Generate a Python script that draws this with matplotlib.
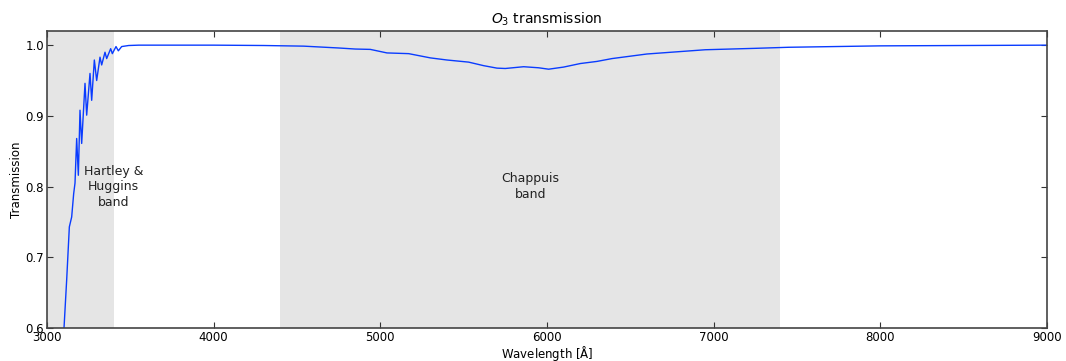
import matplotlib
matplotlib.use("Agg")
import matplotlib.pyplot as plt

# wavelength [A] and O3 transmission
wave = [3095, 3102, 3118, 3134, 3148, 3160, 3168, 3178, 3188, 3198, 3208, 3228, 3238,
        3258, 3268, 3284, 3298, 3318, 3328, 3348, 3358, 3382, 3392, 3414, 3428, 3448,
        3490, 3550, 3700, 4000, 4300, 4540, 4750, 4850, 4940, 5040, 5170, 5300, 5400,
        5530, 5620, 5700, 5750, 5860, 5950, 6010, 6100, 6200, 6300, 6390, 6600, 6950,
        7250, 7450, 8000, 9000]
trans = [0.590, 0.600, 0.668, 0.743, 0.757, 0.790, 0.805, 0.868, 0.816, 0.908, 0.861, 0.946, 0.901,
         0.960, 0.922, 0.979, 0.950, 0.983, 0.972, 0.990, 0.981, 0.995, 0.988, 0.998, 0.992, 0.998,
         0.9995, 1.000, 1.000, 1.000, 0.9995, 0.9986, 0.996, 0.9945, 0.994, 0.989, 0.988, 0.982, 0.979,
         0.976, 0.971, 0.9675, 0.967, 0.9695, 0.968, 0.966, 0.969, 0.974, 0.977, 0.981, 0.9875, 0.9935,
         0.9955, 0.997, 0.999, 1.000]

bands = [(3000, 3400), (4400, 7400)]
band_labels = ["Hartley &\nHuggins\nband", "Chappuis\nband"]
label_x = [3400, 5900]

fig = plt.figure(figsize=(10.66, 3.61), dpi=100)
ax = fig.add_axes([0.0441, 0.0914, 0.938, 0.8227])

for (lo, hi) in bands:
    ax.axvspan(lo, hi, color="#e5e5e5", lw=0, zorder=0)
for lab, x in zip(band_labels, label_x):
    ax.text(x, 0.8, lab, ha="center", va="center", multialignment="center",
            fontsize=9, color="#222222", linespacing=1.25)

ax.plot(wave, trans, color="#0a3cff", lw=1.0)

ax.set_xlim(3000, 9000)
ax.set_ylim(0.6, 1.02)
ax.set_xticks(range(3000, 9001, 1000))
ax.set_yticks([0.6, 0.7, 0.8, 0.9, 1.0])
ax.tick_params(direction="in", top=True, right=True, labelsize=8.5, length=4,
               color="#333333", pad=2)
for s in ax.spines.values():
    s.set_color("#444444")
    s.set_linewidth(1.2)

ax.set_title("$O_3$ transmission", fontsize=10, pad=5)
ax.set_xlabel(r"Wavelength [$\mathrm{\AA}$]", fontsize=8.5, labelpad=0)
ax.set_ylabel("Transmission", fontsize=8.5, labelpad=2)

fig.savefig("out.png", dpi=100)
